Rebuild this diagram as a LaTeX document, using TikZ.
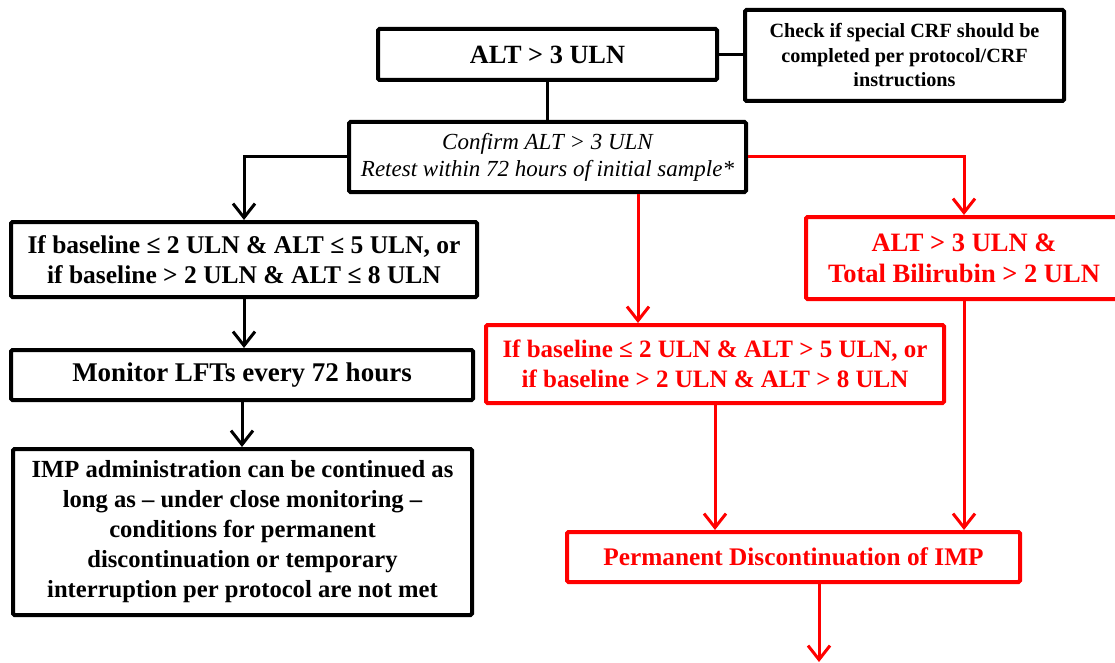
\documentclass[tikz,border=0pt]{standalone}
\usepackage{fontspec}
\setmainfont{Liberation Serif}
\usepackage{tikz}
\usetikzlibrary{shapes,arrows.meta,positioning,calc}
\definecolor{altred}{HTML}{FF0000}
\tikzstyle{block} = [rectangle, draw=black, line width=4pt, rounded corners=1.5pt,
    align=center, inner sep=0pt, font=\bfseries\fontsize{25}{29.5}\selectfont]
\tikzstyle{redblock} = [block, draw=altred, text=altred]
\tikzstyle{link} = [line width=3pt]
\tikzstyle{arrow} = [-{Straight Barb[length=14pt,width=22pt]}, line width=3pt]
\tikzstyle{redarrow} = [arrow, altred]

\begin{document}
\begin{tikzpicture}[x=1pt, y=-1pt]
\useasboundingbox (0,0) rectangle (1115,663);
\clip (0,0) rectangle (1115,663);

% top of the chart
\node[block, minimum width=339pt, minimum height=51pt, font=\bfseries\fontsize{26.3}{30}\selectfont] (alt) at (547.5,54.5) {ALT > 3 ULN};
\node[block, minimum width=319pt, minimum height=91pt, font=\bfseries\fontsize{20.2}{24.5}\selectfont] (crf) at (904.5,55.5)
  {Check if special CRF should be\\ completed per protocol/CRF\\ instructions};
\node[block, minimum width=397pt, minimum height=70pt, font=\itshape\fontsize{23}{27}\selectfont] (confirm) at (547.5,157)
  {Confirm ALT > 3 ULN\\ Retest within 72 hours of initial sample*};

% left branch
\node[block, minimum width=466pt, minimum height=75pt, font=\bfseries\fontsize{25.5}{29.5}\selectfont] (okbox) at (244,259.5)
  {If baseline ≤ 2 ULN \& ALT ≤ 5 ULN, or\\ if baseline > 2 ULN \& ALT ≤ 8 ULN};
\node[block, minimum width=462pt, minimum height=50pt, font=\bfseries\fontsize{27}{30}\selectfont] (monitor) at (242,375) {Monitor LFTs every 72 hours};
\node[block, minimum width=459pt, minimum height=166pt, font=\bfseries\fontsize{24.6}{30}\selectfont] (goon) at (242.5,532)
  {IMP administration can be continued as\\ long as -- under close monitoring --\\ conditions for permanent\\
   discontinuation or temporary\\ interruption per protocol are not met};

% right branch
\node[redblock, minimum width=316pt, minimum height=82pt, font=\bfseries\fontsize{26.5}{31}\selectfont] (bili) at (964,258)
  {ALT > 3 ULN \&\\ Total Bilirubin > 2 ULN};
\node[redblock, minimum width=458pt, minimum height=78pt] (highbox) at (715,364)
  {If baseline ≤ 2 ULN \& ALT > 5 ULN, or\\ if baseline > 2 ULN \& ALT > 8 ULN};
\node[redblock, minimum width=453pt, minimum height=50pt, font=\bfseries\fontsize{25.3}{30}\selectfont] (stop) at (793.5,557) {Permanent Discontinuation of IMP};

\coordinate (splitF) at (638,0);
\coordinate (outlet) at (819,662);

\draw[link] (alt.east) -- (crf.west |- alt.east);
\draw[link] (alt.south) -- (confirm.north);
\draw[arrow] (confirm.west) -| (okbox.north);
\draw[arrow] (okbox.south) -- (okbox.south |- monitor.north);
\draw[arrow] (monitor.south) -- (monitor.south |- goon.north);

\draw[redarrow] (confirm.east) -| (bili.north);
\draw[redarrow] (splitF |- confirm.south) -- (splitF |- highbox.north);
\draw[redarrow] (highbox.south) -- (highbox.south |- stop.north);
\draw[redarrow] (bili.south) -- (bili.south |- stop.north);
\draw[redarrow] (outlet |- stop.south) -- (outlet);
\end{tikzpicture}
\end{document}
